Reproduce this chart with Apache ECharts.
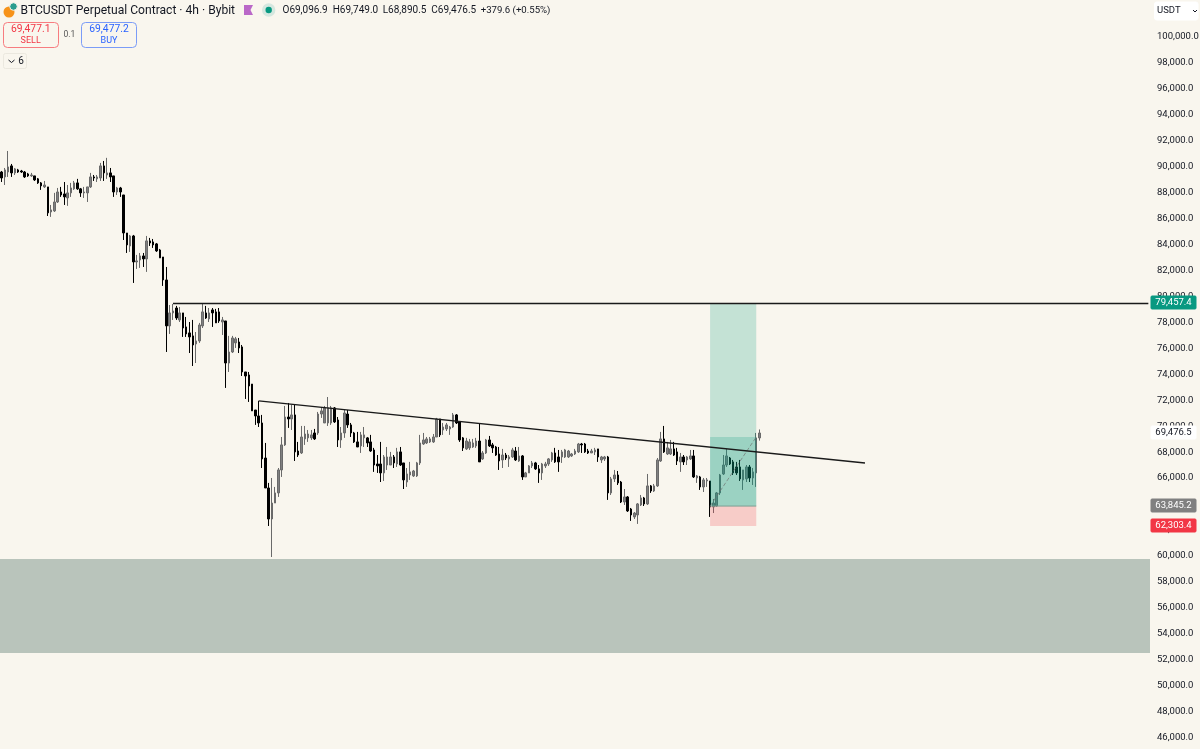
<!DOCTYPE html>
<html>
<head>
<meta charset="utf-8">
<title>BTCUSDT Perpetual Contract</title>
<style>
  html, body { margin: 0; padding: 0; background: #f9f6ee; }
  #chart { width: 1200px; height: 749px; }
</style>
<script src="https://cdn.jsdelivr.net/npm/echarts@6/dist/echarts.min.js"></script>
</head>
<body>
<div id="chart"></div>
<script>
// BTCUSDT perpetual, 4h candles (oldest first)
const opens = [
89590,89210,89590,90060,89520,89750,89670,89590,89440,89290,
89290,89060,88750,88440,88440,86510,86590,87280,88050,87900,
87590,87980,88290,88750,88290,87980,87980,88440,89210,89060,
89130,90060,89360,89520,89290,88050,88360,87820,84890,83890,
84660,82660,82810,83120,82890,84280,84200,84050,83580,83040,
81270,77730,78730,79110,78190,78730,77650,77190,76960,76340,
76570,77730,78730,78270,78960,78810,78810,78030,78110,74870,
75720,76420,76490,76110,74180,73950,73250,71250,70790,70250,
67550,65240,62850,64080,64860,66630,68560,70710,70560,70870,
68090,67940,69020,69100,69100,69480,69480,70940,70250,70250,
70250,71410,70480,68940,69480,70940,70100,69480,68790,68480,
69100,69100,68790,68170,67090,67090,66400,67010,67010,67630,
67090,68020,67170,65700,66240,66170,66170,67170,68630,68710,
68790,68790,69170,70560,69710,69790,69790,69940,70870,70330,
69100,68250,68330,68400,68480,68860,67480,67940,68940,68560,
68400,67860,67400,67780,67480,67630,68090,67320,67710,66090,
66400,66940,67170,66710,66400,66940,67090,67400,67940,67630,
67630,67630,67630,67710,67860,68020,68630,68630,68090,67940,
68020,68250,67400,67480,67630,64860,65940,66240,65700,64160,
64550,63620,63010,63160,63930,64470,64010,65400,65010,65400,
67320,69020,67860,67860,68250,68020,67250,67630,67400,67480,
67710,66010,66090,65320,65780,65780,63780,63850,64860,66320,
67010,67550,67250,66860,66860,65860,65940,66860,66010,66400,
69096.9];
const highs = [
89670,89900,91210,90210,89900,89830,89750,89670,89520,89520,
89290,89130,88820,88900,88440,87050,87980,88360,88440,88820,
88590,88750,88900,89060,88360,88440,88440,89520,89360,89360,
90290,90440,90680,89900,89290,88440,88440,87820,84890,84740,
84740,83200,83350,83350,84660,84510,84430,84120,83660,83040,
82270,79340,79420,79270,79190,78730,78420,78030,78190,77260,
77960,79420,79270,79110,79110,79040,79110,78420,78110,76960,
76960,76880,76800,76260,74180,74180,73250,71250,71950,70870,
68710,65630,66010,65320,66780,69170,71560,71790,71640,71710,
68790,70020,70020,69710,69710,69790,71100,71480,71560,72250,
71560,71480,70710,69940,71250,71250,70250,69560,69560,69560,
69940,69170,69330,68330,67780,68790,67780,68400,68020,67780,
68330,68400,67170,66780,67250,66630,67250,69330,69480,69170,
69170,69400,70640,70560,70250,70250,70020,71020,70940,70400,
69170,69100,69020,69020,69100,70170,68090,69020,69250,68710,
68480,68400,68250,67940,67780,68330,68400,68400,67780,66480,
67010,67320,67250,67010,67170,67250,67550,68020,68330,68170,
68170,68250,68170,67940,68250,68710,68710,68710,68250,68250,
68330,68250,67710,67710,67710,66090,66630,66550,65780,65160,
64620,63700,63390,64080,64700,64550,66320,65470,65550,67550,
69560,70020,68790,68940,68790,68330,67940,67780,67710,68170,
68170,66240,66170,66010,66010,65780,64390,64930,66320,67780,
68250,67630,67400,67250,67400,66630,67010,67010,66780,69480,
69749.0];
const lows = [
88820,88590,89210,89210,89360,89520,89520,89130,89210,89210,
88900,88670,88210,88360,86200,86130,86510,87200,87670,87050,
86980,87670,88210,88210,87670,87590,87280,88360,88900,88820,
88900,88900,89060,88820,87670,87820,87670,84350,83350,83430,
81040,82120,82200,82270,81890,83890,83740,83430,82970,80810,
75720,77110,78190,78190,78030,76880,76880,75640,74640,74870,
76420,77570,78270,78030,77650,77960,77960,77030,72950,74180,
75640,76030,75640,73870,72100,71870,71180,70100,69940,66780,
65240,62310,59920,64080,64550,66090,68480,69870,69710,67320,
67630,67860,68560,68790,68940,68940,69330,70640,70250,70020,
70100,70250,68400,68330,69100,69870,69170,68710,68400,67940,
68400,68400,68020,66480,66400,65700,65780,66630,67010,66780,
66860,66940,65160,65320,65860,66090,66090,67010,68560,68630,
68710,68710,69170,69170,69330,69630,69330,69870,70170,68790,
68090,68170,68170,68330,68330,67250,67400,67860,68400,67940,
67710,66630,66780,67400,66860,67550,67320,67250,65860,66090,
66400,66780,66630,65630,65860,66780,66940,67250,67170,66480,
67170,67550,67550,67630,67780,67940,67940,67940,67860,67940,
67780,67250,67170,67320,64320,64700,65700,65470,64080,63930,
63390,62700,62850,62470,63850,63850,63930,64860,64930,65320,
67250,67940,67780,67780,67710,67010,66480,67010,67010,67400,
66010,65630,65090,64930,65320,63010,63310,63780,64700,66240,
66860,67010,66240,66240,65780,65090,65700,65700,65470,65320,
68890.5];
const closes = [
89130,89750,89980,89520,89830,89590,89590,89210,89290,89360,
88980,88750,88520,88590,86440,86670,87280,88050,87820,87670,
87980,88360,88750,88290,87980,88050,88440,89210,89130,89210,
90060,89520,89520,89210,88050,88360,88050,84890,83970,84660,
82660,82740,83120,82890,84280,84120,83970,83510,82970,81270,
77730,78730,78880,78340,78730,77570,77110,76880,76260,76570,
77800,78810,78340,78730,78730,77960,78110,78190,74870,75720,
76800,76730,76030,74180,73870,73100,71180,70790,70250,67480,
65240,62850,64080,64860,66630,68560,70710,70560,70870,68020,
67780,69170,69400,69400,69330,69020,70940,71180,71410,71410,
71410,70330,68940,69480,71020,70100,69480,68790,68400,69330,
69330,68710,68090,67010,66940,66400,67630,67630,67630,67170,
68020,67010,65860,66320,66480,66550,67170,68710,68940,69020,
69020,69170,70560,69330,69940,70100,69940,70870,70250,68940,
68330,68860,68790,68710,68860,67250,67940,68940,68480,68330,
67780,67320,67780,67550,67630,68170,67400,67710,66090,66400,
66940,67170,66710,66400,67090,67090,67480,67940,67250,67250,
68020,68170,68090,67860,68090,68630,68560,68020,67940,68090,
68170,67630,67630,67630,64860,65940,66240,65630,64160,64550,
63470,63160,63310,64010,64470,64010,65400,65010,65400,67400,
69020,68020,68330,68250,67780,67320,67630,67250,67630,67710,
66090,66170,65320,65860,65860,63780,64080,64860,66240,67010,
67710,67090,66400,66400,65940,66630,66860,66010,66480,69100,
69476.5];

// Price scale ticks
const yMin = 44000, yMax = 104000, yStep = 2000;
const firstTick = 46000, lastTick = 100000;

// Empty room to the right of the last candle
const slotCount = 349;
const slots = Array.from({ length: slotCount }, (_, i) => String(i));

// Drawings: [slot, price] end points
const resistance = [[52, 79457.4], [348, 79457.4]];
const trendline = [[78, 71950], [262, 67170]];
const positionPath = [[215, 63845.2], [229, 69170]];
const entryEdge = [[215, 63845.2], [229, 63845.2]];

// Long position tool: [first slot, last slot, price a, price b, colour]
const positionZones = [
  [215, 229, 63845.2, 79457.4, 'rgba(8,153,129,0.22)'],
  [215, 229, 63845.2, 69170, 'rgba(8,153,129,0.22)'],
  [215, 229, 62303.4, 63845.2, 'rgba(242,54,69,0.22)']
];
const demandZone = [59770, 52520];

// Tags on the price scale: value, fill, text colour
const priceTags = [
  [79457.4, '#089981', '#ffffff'],
  [69476.5, '#ffffff', '#131722'],
  [63845.2, '#808080', '#ffffff'],
  [62303.4, '#f23645', '#ffffff']
];

const labelFont = 'Roboto, "Noto Sans", sans-serif';
const money = v => v.toLocaleString('en-US', { minimumFractionDigits: 1, maximumFractionDigits: 1 });

const chart = echarts.init(document.getElementById('chart'), null, { renderer: 'canvas' });

const candles = opens.map((o, i) => [o, closes[i], lows[i], highs[i]]);
const drawn = (data, color, width, type, z) => ({
  type: 'line', data, symbol: 'none', silent: true, z, animation: false,
  lineStyle: { color, width, type: type || 'solid' }
});

chart.setOption({
  animation: false,
  backgroundColor: '#f9f6ee',
  grid: { left: 0, top: -15, width: 1150, height: 778.6, containLabel: false, outerBoundsMode: 'none' },
  xAxis: {
    type: 'category', data: slots, show: false, boundaryGap: true
  },
  yAxis: {
    type: 'value', position: 'right', min: yMin, max: yMax, interval: yStep, scale: true,
    splitLine: { show: false }, axisLine: { show: false }, axisTick: { show: false },
    axisLabel: {
      margin: 7, fontFamily: labelFont, fontSize: 9.5, color: '#131722', padding: [0, 0, 2, 0],
      formatter: v => (v < firstTick || v > lastTick) ? '' : money(v)
    }
  },
  series: [
    {
      type: 'candlestick', data: candles, barWidth: 2, z: 3, silent: true,
      itemStyle: { color: '#808080', color0: '#000000', borderColor: '#6a6a6a', borderColor0: '#000000', borderWidth: 1 },
      markArea: {
        silent: true, itemStyle: { color: '#b9c4bb' },
        data: [[{ yAxis: demandZone[0] }, { yAxis: demandZone[1] }]]
      }
    },
    {
      type: 'custom', z: 4, silent: true, data: positionZones,
      encode: { x: [0, 1], y: [2, 3] },
      renderItem: (params, api) => {
        const a = api.coord([api.value(0), api.value(2)]);
        const b = api.coord([api.value(1), api.value(3)]);
        return {
          type: 'rect',
          shape: { x: a[0], y: b[1], width: b[0] - a[0], height: a[1] - b[1] },
          style: { fill: positionZones[params.dataIndex][4] }
        };
      }
    },
    drawn(entryEdge, '#7c9f94', 1, 'solid', 5),
    drawn(positionPath, 'rgba(110,110,110,0.65)', 1, 'dashed', 5),
    drawn(resistance, '#1a1a1a', 1.4, 'solid', 6),
    drawn(trendline, '#1a1a1a', 1.4, 'solid', 6)
  ]
});

// Header strip and price tags sit on top of the plot
const text = (x, y, t, size, fill, extra) => ({
  type: 'text', x, y, z: 20,
  style: Object.assign({ text: t, fontFamily: labelFont, fontSize: size, fill, textVerticalAlign: 'middle' }, extra || {})
});
const box = (x, y, w, h, r, fill, stroke) => ({
  type: 'rect', z: 19, shape: { x, y, width: w, height: h, r },
  style: { fill, stroke, lineWidth: 1 }
});

const tagLayer = priceTags.map(([v, fill, ink]) => {
  const y = chart.convertToPixel({ yAxisIndex: 0 }, v);
  return {
    type: 'group', z: 18, children: [
      box(1151, Math.round(y) - 7, 45, 13, 1, fill, fill),
      text(1173.5, Math.round(y) - 0.5, money(v), 9.5, ink, { textAlign: 'center' })
    ]
  };
});

chart.setOption({
  graphic: [
    // coin badge
    { type: 'circle', z: 19, shape: { cx: 9, cy: 12, r: 5.5 }, style: { fill: '#f7931a' } },
    { type: 'circle', z: 20, shape: { cx: 13.5, cy: 6.5, r: 3.8 }, style: { fill: '#2a9d8f', stroke: '#f9f6ee', lineWidth: 1 } },
    text(20.5, 10.5, 'BTCUSDT Perpetual Contract · 4h · Bybit', 12.1, '#131722'),
    // flag
    { type: 'polygon', z: 19, shape: { points: [[244, 5], [253, 5], [250.5, 10], [253, 15], [244, 15]] }, style: { fill: '#ba68c8' } },
    // market status dot
    { type: 'circle', z: 19, shape: { cx: 268.7, cy: 10, r: 6.7 }, style: { fill: '#d5e7df' } },
    { type: 'circle', z: 20, shape: { cx: 268.7, cy: 10, r: 3.2 }, style: { fill: '#089981' } },
    text(282.5, 10.5, 'O69,096.9', 10, '#131722'),
    text(332.7, 10.5, 'H69,749.0', 10, '#131722'),
    text(382.7, 10.5, 'L68,890.5', 10, '#131722'),
    text(431.3, 10.5, 'C69,476.5', 10, '#131722'),
    text(480.7, 10.5, '+379.6 (+0.55%)', 9.6, '#131722'),
    // trade buttons
    box(3.5, 22.5, 55, 25, 4, '#f9f6ee', '#f77c80'),
    text(30.7, 29.8, '69,477.1', 10.3, '#f23645', { textAlign: 'center' }),
    text(30.7, 40.3, 'SELL', 9, '#f23645', { textAlign: 'center' }),
    text(69.3, 35, '0.1', 8.5, '#555555', { textAlign: 'center' }),
    box(81.5, 22.5, 55, 25, 4, '#f9f6ee', '#7b9cf7'),
    text(109, 29.8, '69,477.2', 10.3, '#2962ff', { textAlign: 'center' }),
    text(109, 40.3, 'BUY', 9, '#2962ff', { textAlign: 'center' }),
    // collapsed indicators
    box(3.5, 53.5, 23, 15, 2, '#f9f6ee', '#ebe8df'),
    { type: 'polyline', z: 20, shape: { points: [[8.5, 60], [11.5, 62.5], [14.5, 60]] }, style: { stroke: '#131722', lineWidth: 1, fill: null } },
    text(18.3, 61.5, '6', 10, '#131722'),
    // currency selector
    box(1154.5, 2, 43.5, 18, 2, '#ffffff', '#ffffff'),
    text(1157, 10.5, 'USDT', 9.5, '#131722'),
    { type: 'polyline', z: 20, shape: { points: [[1193, 10], [1195, 12], [1197, 10]] }, style: { stroke: '#131722', lineWidth: 1, fill: null } },
    ...tagLayer
  ]
});
</script>
</body>
</html>
